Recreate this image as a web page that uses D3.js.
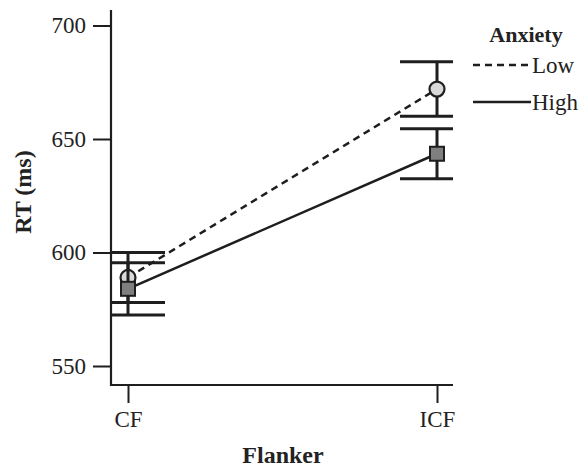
<!DOCTYPE html>
<html><head><meta charset="utf-8">
<script src="https://cdn.jsdelivr.net/npm/d3@7"></script>
<style>body{margin:0;background:#fff}svg{display:block}text{font-family:"Liberation Serif","Times New Roman",serif;fill:#222}</style>
</head><body><svg id="c" width="579" height="468"></svg>
<script>
const categories = ["CF", "ICF"];
const lowMean = [589, 672];
const lowLower = [578, 660];
const lowUpper = [600, 684];
const highMean = [584, 643.5];
const highLower = [572.5, 632.5];
const highUpper = [595.5, 654.5];
const yTicks = [550, 600, 650, 700];
const seriesNames = ["Low", "High"];

const svg = d3.select("#c");
const ink = "#1e1e1e";
const x = d3.scalePoint().domain(categories).range([128, 437]);
const y = d3.scaleLinear().domain([550, 700]).range([366, 25.5]);
const pLeft = 111, pRight = 453, pBottom = 385, pTop = 10;

svg.append("clipPath").attr("id", "clip").append("rect")
  .attr("x", pLeft).attr("y", 0).attr("width", pRight - pLeft).attr("height", pBottom);

// axes
const yAxis = d3.axisLeft(y).tickValues(yTicks).tickSize(18).tickPadding(7).tickSizeOuter(0);
const gy = svg.append("g").attr("transform", `translate(${pLeft},0)`).call(yAxis);
gy.select(".domain").remove();
gy.selectAll("line").attr("stroke", ink).attr("stroke-width", 2);
gy.selectAll("text").style("font-size", "23px").attr("fill", ink);
svg.append("line").attr("x1", pLeft).attr("x2", pLeft).attr("y1", pTop).attr("y2", pBottom + 1)
  .attr("stroke", ink).attr("stroke-width", 2.2);

const xAxis = d3.axisBottom(x).tickSize(18).tickPadding(8).tickSizeOuter(0);
const gx = svg.append("g").attr("transform", `translate(0,${pBottom})`).call(xAxis);
gx.select(".domain").remove();
gx.selectAll("line").attr("stroke", ink).attr("stroke-width", 2);
gx.selectAll("text").style("font-size", "23px").attr("fill", ink);
svg.append("line").attr("x1", pLeft - 1).attr("x2", pRight).attr("y1", pBottom).attr("y2", pBottom)
  .attr("stroke", ink).attr("stroke-width", 2.2);

svg.append("text").attr("transform", "translate(31,192) rotate(-90)").attr("text-anchor", "middle")
  .style("font-size", "24px").style("font-weight", "bold").text("RT (ms)");
svg.append("text").attr("x", 283).attr("y", 463).attr("text-anchor", "middle")
  .style("font-size", "24px").style("font-weight", "bold").text("Flanker");

const plot = svg.append("g").attr("clip-path", "url(#clip)");
const capHalf = 37;
const lowDash = "7,5";

function drawSeries(mean, lo, hi, dash, marker) {
  const gc = plot.append("g");
  const g = svg.append("g");
  categories.forEach((c, i) => {
    [lo[i], hi[i]].forEach(v => {
      gc.append("line").attr("x1", x(c) - capHalf).attr("x2", x(c) + capHalf)
        .attr("y1", y(v)).attr("y2", y(v)).attr("stroke", ink).attr("stroke-width", 3);
    });
    g.append("line").attr("x1", x(c)).attr("x2", x(c)).attr("y1", y(hi[i])).attr("y2", y(lo[i]))
      .attr("stroke", ink).attr("stroke-width", 3);
  });
  const line = d3.line().x((d, i) => x(categories[i])).y(d => y(d));
  g.append("path").datum(mean).attr("d", line).attr("fill", "none").attr("stroke", ink)
    .attr("stroke-width", 2.5).attr("stroke-dasharray", dash);
  categories.forEach((c, i) => {
    if (marker === "circle") {
      g.append("circle").attr("cx", x(c)).attr("cy", y(mean[i])).attr("r", 7.5)
        .attr("fill", "#d9d9d9").attr("stroke", ink).attr("stroke-width", 2.2);
    } else {
      g.append("rect").attr("x", x(c) - 7).attr("y", y(mean[i]) - 7).attr("width", 14).attr("height", 14)
        .attr("fill", "#7f7f7f").attr("stroke", ink).attr("stroke-width", 2);
    }
  });
}
drawSeries(lowMean, lowLower, lowUpper, lowDash, "circle");
drawSeries(highMean, highLower, highUpper, null, "square");

// legend
const lg = svg.append("g");
lg.append("text").attr("x", 526).attr("y", 42).attr("text-anchor", "middle")
  .style("font-size", "22px").style("font-weight", "bold").text("Anxiety");
const legY = [65, 102];
const legDash = ["7,5", null];
seriesNames.forEach((n, i) => {
  lg.append("line").attr("x1", 473).attr("x2", 531).attr("y1", legY[i]).attr("y2", legY[i])
    .attr("stroke", ink).attr("stroke-width", 2.5).attr("stroke-dasharray", legDash[i]);
  lg.append("text").attr("x", 532).attr("y", legY[i] + 8).style("font-size", "23px").text(n);
});
</script></body></html>
